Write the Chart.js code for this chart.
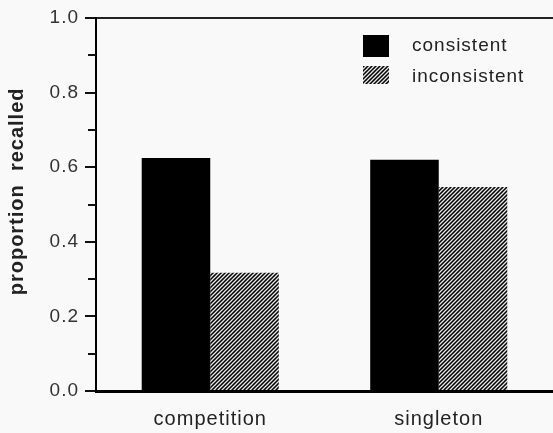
<!DOCTYPE html>
<html>
<head>
<meta charset="utf-8">
<script src="https://cdn.jsdelivr.net/npm/chart.js@4.4.1/dist/chart.umd.min.js"></script>
<style>
  body { margin: 0; background: #f9f9f9; }
  canvas { display: block; }
</style>
</head>
<body>
<canvas id="chart" width="553" height="433"></canvas>
<script>
const categories = ['competition', 'singleton'];
const consistent = [0.625, 0.62];
const inconsistent = [0.317, 0.547];
const seriesNames = ['consistent', 'inconsistent'];

// diagonal hatch used for the inconsistent bars
function makeHatch() {
  const c = document.createElement('canvas');
  c.width = 4; c.height = 4;
  const g = c.getContext('2d');
  g.fillStyle = '#000';
  g.fillRect(0, 0, 4, 4);
  g.strokeStyle = '#e8e8e8';
  g.lineWidth = 1.3;
  g.beginPath();
  g.moveTo(-1, 5); g.lineTo(5, -1);
  g.moveTo(-1, 1); g.lineTo(1, -1);
  g.moveTo(3, 5); g.lineTo(5, 3);
  g.stroke();
  return g.createPattern(c, 'repeat');
}
const hatch = makeHatch();

const FONT = "'Liberation Sans', Arial, Helvetica, sans-serif";

// the scanned figure has rather loose letter spacing
const looseText = {
  id: 'looseText',
  beforeDraw(chart) { chart.ctx.letterSpacing = '1px'; }
};

// short ticks at 0.1, 0.3, ...
const minorTicks = {
  id: 'minorTicks',
  afterDraw(chart) {
    const ctx = chart.ctx;
    const y = chart.scales.y;
    ctx.save();
    ctx.strokeStyle = '#111';
    ctx.lineWidth = 2;
    for (let i = 1; i < 10; i += 2) {
      const py = Math.round(y.getPixelForValue(i / 10));
      ctx.beginPath();
      ctx.moveTo(y.right - 8, py);
      ctx.lineTo(y.right, py);
      ctx.stroke();
    }
    ctx.restore();
  }
};

// legend box in the upper right of the plot
const boxLegend = {
  id: 'boxLegend',
  afterDraw(chart) {
    const ctx = chart.ctx;
    ctx.save();
    ctx.font = '19px ' + FONT;
    ctx.textBaseline = 'middle';
    chart.data.datasets.forEach((ds, i) => {
      const top = 35 + i * 31;
      ctx.fillStyle = ds.backgroundColor;
      ctx.fillRect(363, top, 26, i ? 18 : 22);
      ctx.fillStyle = '#222';
      ctx.fillText(seriesNames[i], 412, top + 11);
    });
    ctx.restore();
  }
};

new Chart(document.getElementById('chart'), {
  type: 'bar',
  data: {
    labels: categories,
    datasets: [
      { label: seriesNames[0], data: consistent, backgroundColor: '#000' },
      { label: seriesNames[1], data: inconsistent, backgroundColor: hatch }
    ]
  },
  options: {
    responsive: false,
    animation: false,
    layout: { padding: { top: 18, right: 0, left: 0, bottom: 0 } },
    datasets: { bar: { categoryPercentage: 0.6, barPercentage: 1.0, borderWidth: 0 } },
    plugins: { legend: { display: false }, tooltip: { enabled: false } },
    scales: {
      x: {
        grid: { display: false },
        border: { color: '#000', width: 3 },
        ticks: { color: '#222', font: { family: FONT, size: 20 }, padding: 8 },
        afterFit(scale) { scale.height = 42; }
      },
      y: {
        min: 0,
        max: 1,
        ticks: {
          stepSize: 0.1,
          padding: 6,
          color: '#333',
          font: { family: FONT, size: 19 },
          callback: v => (Math.round(v * 10) % 2 === 0 ? v.toFixed(1) : '')
        },
        grid: {
          tickLength: 11,
          lineWidth: 2,
          color: c => (c.tick && c.tick.value === 1 ? '#222' : 'rgba(0,0,0,0)'),
          tickColor: c => (c.tick && Math.round(c.tick.value * 10) % 2 === 0 ? '#111' : 'rgba(0,0,0,0)')
        },
        border: { color: '#000', width: 2 },
        title: {
          display: true,
          text: '    proportion  recalled',
          color: '#222',
          font: { family: FONT, size: 20, weight: 'bold' },
          padding: { top: 5, bottom: 0 }
        },
        afterFit(scale) { scale.width = 96; }
      }
    }
  },
  plugins: [looseText, minorTicks, boxLegend]
});
</script>
</body>
</html>
